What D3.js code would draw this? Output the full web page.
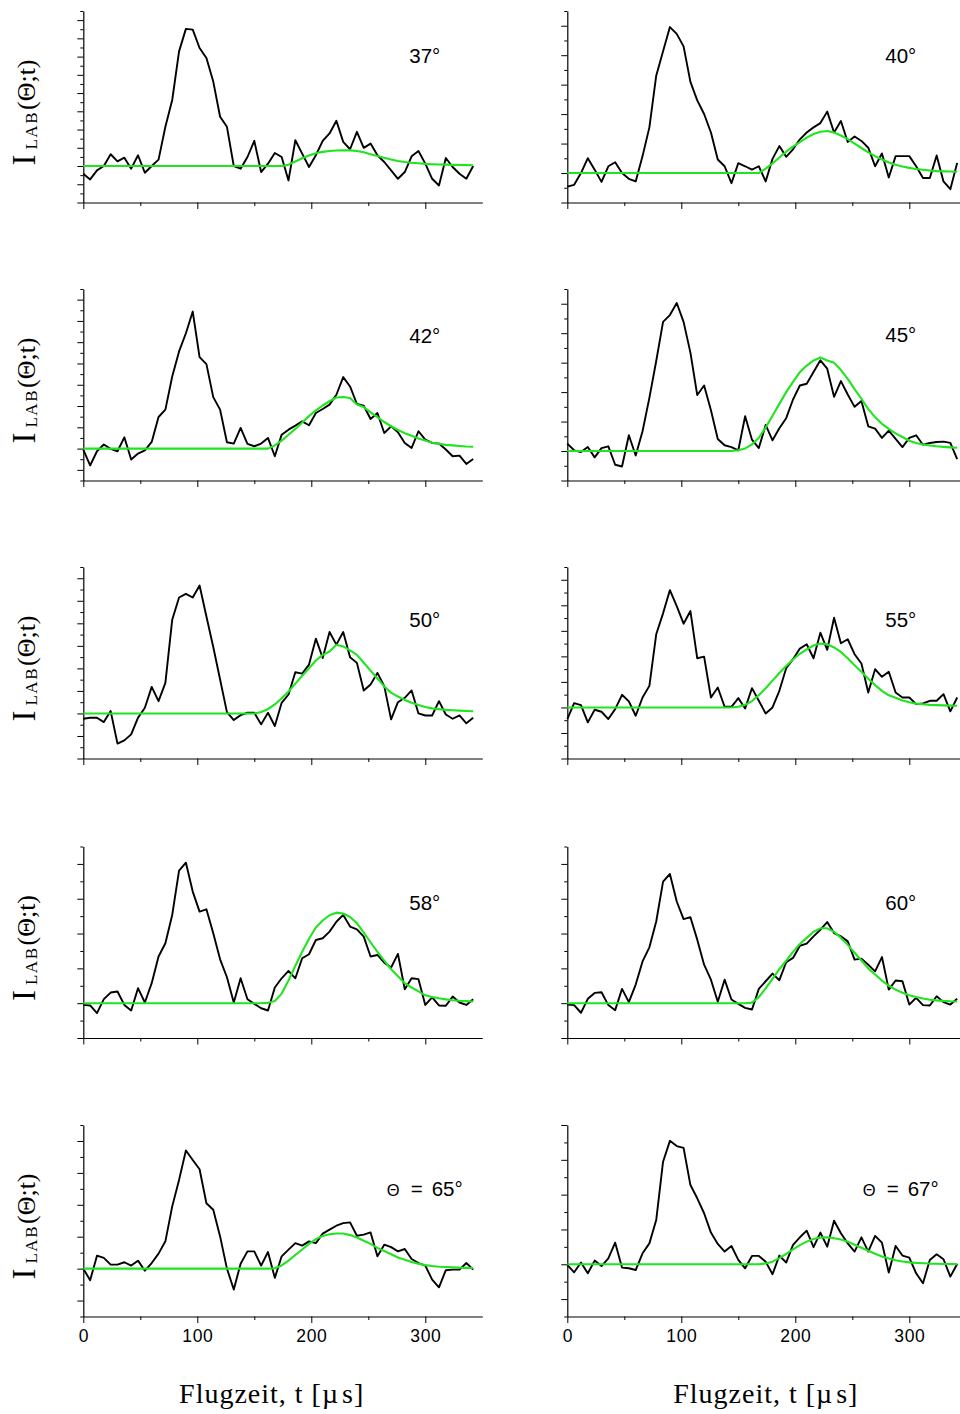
<!DOCTYPE html>
<html>
<head>
<meta charset="utf-8">
<script src="https://cdn.jsdelivr.net/npm/d3@7"></script>
<style>
  html, body { margin: 0; padding: 0; background: #fff; }
  svg { display: block; }
</style>
</head>
<body>
<svg id="chart" width="960" height="1414"></svg>
<script>
// Flight-time sampling grid in microseconds
const times = [0, 6, 12, 18, 24, 30, 36, 42, 48, 54, 60, 66, 72, 78, 84, 90, 96, 102, 108, 114,
  120, 126, 132, 138, 144, 150, 156, 162, 168, 174, 180, 186, 192, 198, 204, 210, 216, 222, 228, 234,
  240, 246, 252, 258, 264, 270, 276, 282, 288, 294, 300, 306, 312, 318, 324, 330, 336, 342];

// Laboratory angles and their panel captions
const angleLabels = ["37°", "40°", "42°", "45°", "50°", "55°", "58°", "60°", "65°", "67°"];
const thetaPrefixed = [false, false, false, false, false, false, false, false, true, true];

// Vertical axis extent per panel (in minor-tick units, baseline at 0)
const yRanges = [[-4, 17], [-2, 11], [-3, 15], [-2, 11], [-4, 13], [-4, 11], [-2, 9], [-2, 9], [-3, 9], [-3, 8]];

const xMajorTicks = [0, 100, 200, 300];
const xMinorTicks = [50, 150, 250];

// Measured time-of-flight intensity
const signal37 = [-0.85, -1.47, -0.48, 0, 1.29, 0.51, 0.92, -0.29, 1.18, -0.74, 0, 0.70, 4.3, 7.24, 12.57, 15.04, 14.96, 12.94, 11.84, 9.26, 5.4, 4.3, 0, -0.29, 0.99, 2.76, -0.66, 0.26, 1.43, 0.99, -1.58, 2.83, 1.36, -0.11, 1.18, 2.76, 3.57, 4.96, 2.65, 1.84, 3.75, 1.99, 2.46, 1.18, 0.44, -0.48, -1.40, -0.66, 1.07, 1.65, 0.26, -1.40, -2.13, 0.88, -0.11, -0.85, -1.40, 0];
const signal40 = [-0.92, -0.80, 0, 1.01, 0.23, -0.60, 0.46, 0.73, 0, -0.39, -0.57, 1.15, 3.10, 6.61, 8.26, 9.91, 9.45, 8.60, 6.19, 4.93, 4.01, 2.75, 0.92, 0.46, -0.69, 0.67, 0.46, 0.23, 0.46, -0.57, 0.96, 1.83, 1.10, 1.61, 2.29, 2.75, 3.10, 3.39, 4.17, 2.75, 3.53, 2.11, 2.48, 2.18, 1.72, 0.46, 1.33, -0.30, 1.15, 1.15, 1.15, 0.46, -0.34, -0.34, 1.19, -0.57, -1.10, 0.69];
const signal42 = [-0.09, -1.59, -0.25, 0.38, -0.03, -0.25, 1.06, -1.03, -0.47, -0.16, 0.63, 2.97, 3.66, 6.78, 9.13, 10.84, 12.88, 8.59, 7.94, 4.84, 3.66, 0.59, 0.47, 1.94, 0.44, 0.22, 0.47, 1.0, -0.72, 1.31, 1.78, 2.16, 2.56, 2.19, 3.34, 3.72, 4.13, 5.06, 6.72, 5.84, 4.19, 4.03, 2.78, 3.34, 1.47, 2.09, 1.53, 0.53, 0.06, 1.63, 0.84, 0.53, 0.47, -0.09, -0.72, -0.66, -1.44, -0.97];
const signal45 = [0.5, 0.05, -0.07, 0.27, -0.43, 0.2, 0.32, -0.93, -1.05, 1.07, -0.3, 1.34, 3.61, 6.11, 8.77, 9.23, 10.05, 8.77, 6.68, 3.8, 4.45, 2.77, 0.82, 0.39, 0.27, 0.05, 2.36, 0.77, 0.2, 1.77, 0.73, 1.55, 2.23, 3.5, 4.45, 4.57, 5.36, 6.16, 5.59, 3.68, 4.75, 3.84, 3.0, 3.39, 1.68, 1.52, 0.89, 1.39, 0.82, 0.27, 0.89, 1.07, 0.43, 0.55, 0.61, 0.64, 0.55, -0.55];
const signal50 = [-0.47, -0.38, -0.38, -0.77, 0.21, -2.68, -2.39, -1.86, -0.38, 0.5, 2.36, 1.09, 2.71, 8.32, 10.29, 10.62, 10.29, 11.36, 8.61, 5.9, 3.01, 0.12, -0.59, -0.15, 0.06, 0.06, -0.97, 0.06, -1.12, 0.94, 1.68, 3.66, 3.54, 4.34, 6.64, 4.93, 7.23, 6.11, 7.23, 4.99, 4.49, 2.04, 2.57, 3.6, 2.42, -0.53, 1.0, 1.39, 2.04, 0, -0.18, -0.18, 1.09, -0.09, -0.47, -0.18, -0.88, -0.38];
const signal55 = [-0.91, 0.34, 0.18, -1.17, -0.18, -0.34, -0.91, -0.13, 0.99, 0.47, -0.65, 0.78, 1.69, 5.73, 7.37, 9.19, 7.94, 6.56, 7.55, 3.85, 3.98, 0.78, 1.56, 0.05, 0.05, 0.73, -0.08, 1.51, 0.52, -0.47, 0, 1.3, 3.07, 3.78, 4.61, 4.95, 3.85, 5.86, 4.51, 7.03, 5.03, 5.34, 4.17, 3.44, 1.17, 2.99, 2.4, 2.79, 1.17, 0.78, 0.78, 0.26, 0.31, 0.52, 0.52, 1.04, -0.31, 0.78];
const signal58 = [-0.1, -0.13, -0.57, 0.23, 0.61, 0.67, -0.1, -0.42, 0.86, 0.04, 1.15, 2.68, 3.44, 5.07, 7.61, 8.07, 6.41, 5.26, 5.39, 4.02, 2.52, 1.49, 0.04, 1.43, 0.23, -0.04, -0.29, -0.42, 0.9, 1.43, 1.85, 1.43, 2.58, 2.81, 3.63, 3.73, 4.11, 4.68, 5.07, 4.4, 4.24, 3.82, 2.68, 2.77, 2.33, 2.05, 2.83, 0.8, 1.43, 1.38, -0.1, 0.33, -0.13, -0.15, 0.38, 0.04, -0.1, 0.23];
const signal60 = [-0.08, -0.11, -0.55, 0.25, 0.59, 0.63, -0.11, -0.4, 0.82, 0.06, 1.07, 2.4, 3.21, 4.69, 6.98, 7.42, 5.84, 4.83, 4.94, 3.65, 2.21, 1.35, 0.08, 1.35, 0.21, -0.04, -0.27, -0.36, 0.82, 1.26, 1.7, 1.32, 2.35, 2.6, 3.3, 3.42, 3.84, 4.22, 4.66, 4.03, 3.84, 3.55, 2.5, 2.56, 2.21, 1.83, 2.65, 0.78, 1.3, 1.26, -0.08, 0.31, -0.11, -0.13, 0.4, 0.06, -0.08, 0.25];
const signal65 = [0, -0.73, 0.81, 0.67, 0.25, 0.25, 0.4, 0.19, 0.5, -0.13, 0.35, 0.94, 1.71, 3.9, 5.56, 7.4, 6.81, 6.23, 4.1, 3.69, 2.02, 0, -1.31, 0.31, 1.08, 1.08, 0.19, 1.04, -0.58, 0.77, 1.19, 1.6, 1.44, 1.71, 1.6, 2.19, 2.44, 2.69, 2.85, 2.9, 2.06, 2.13, 2.27, 0.77, 1.5, 1.35, 1.08, 1.23, 0.6, 0.35, 0.19, -0.69, -1.17, -0.1, -0.06, -0.06, 0.35, -0.06];
const signal67 = [-0.04, -0.46, 0.1, -0.52, 0.21, -0.1, 0.34, 1.24, -0.19, -0.23, -0.33, 0.63, 1.2, 2.54, 5.89, 7.09, 6.79, 6.69, 4.55, 3.79, 2.93, 1.82, 1.17, 0.73, 1.05, 0.25, -0.23, 0.48, 0.48, 0.15, -0.57, 0.5, 0.1, 1.11, 1.55, 1.93, 0.98, 1.82, 1.01, 2.5, 1.78, 1.2, 0.73, 1.55, 0.73, 1.63, 1.24, -0.48, 1.05, 0.5, 0.38, -0.52, -1.09, 0.25, 0.57, 0.29, -0.71, 0.02];

// Fitted slow (product) component
const fit37 = [0, 0, 0, 0, 0, 0, 0, 0, 0, 0, 0, 0, 0, 0, 0, 0, 0, 0, 0, 0, 0, 0, 0, 0, 0, 0, 0, 0, 0, 0, 0.15, 0.5, 0.85, 1.15, 1.4, 1.55, 1.65, 1.7, 1.73, 1.72, 1.65, 1.5, 1.3, 1.1, 0.9, 0.72, 0.56, 0.45, 0.36, 0.3, 0.24, 0.2, 0.17, 0.15, 0.13, 0.11, 0.1, 0.08];
const fit40 = [0, 0, 0, 0, 0, 0, 0, 0, 0, 0, 0, 0, 0, 0, 0, 0, 0, 0, 0, 0, 0, 0, 0, 0, 0, 0, 0, 0, 0, 0.3, 0.65, 1.05, 1.45, 1.8, 2.1, 2.4, 2.65, 2.8, 2.85, 2.75, 2.55, 2.3, 2.0, 1.7, 1.4, 1.15, 0.92, 0.72, 0.56, 0.44, 0.35, 0.28, 0.22, 0.17, 0.13, 0.11, 0.1, 0.09];
const fit42 = [0, 0, 0, 0, 0, 0, 0, 0, 0, 0, 0, 0, 0, 0, 0, 0, 0, 0, 0, 0, 0, 0, 0, 0, 0, 0, 0, 0, 0.3, 0.75, 1.3, 1.85, 2.45, 3.05, 3.6, 4.05, 4.45, 4.8, 4.85, 4.75, 4.15, 3.9, 3.4, 2.95, 2.5, 2.1, 1.75, 1.45, 1.2, 0.95, 0.75, 0.55, 0.45, 0.35, 0.3, 0.25, 0.2, 0.17];
const fit45 = [0, 0, 0, 0, 0, 0, 0, 0, 0, 0, 0, 0, 0, 0, 0, 0, 0, 0, 0, 0, 0, 0, 0, 0, 0, 0.05, 0.18, 0.45, 0.9, 1.6, 2.4, 3.2, 4.0, 4.7, 5.35, 5.8, 6.15, 6.35, 6.15, 6.0, 5.5, 4.9, 4.2, 3.55, 2.85, 2.3, 1.85, 1.5, 1.2, 0.95, 0.7, 0.55, 0.45, 0.38, 0.32, 0.28, 0.25, 0.22];
const fit50 = [0, 0, 0, 0, 0, 0, 0, 0, 0, 0, 0, 0, 0, 0, 0, 0, 0, 0, 0, 0, 0, 0, 0, 0, 0, 0, 0.12, 0.38, 0.8, 1.35, 1.95, 2.65, 3.35, 4.0, 4.7, 5.2, 5.5, 6.1, 5.95, 5.6, 5.2, 4.5, 3.8, 3.1, 2.4, 1.85, 1.5, 1.2, 0.95, 0.75, 0.58, 0.45, 0.38, 0.32, 0.28, 0.25, 0.22, 0.2];
const fit55 = [0, 0, 0, 0, 0, 0, 0, 0, 0, 0, 0, 0, 0, 0, 0, 0, 0, 0, 0, 0, 0, 0, 0, 0, 0, 0.05, 0.2, 0.5, 0.95, 1.5, 2.1, 2.7, 3.25, 3.75, 4.2, 4.55, 4.85, 5.0, 4.95, 4.7, 4.35, 3.85, 3.3, 2.8, 2.25, 1.75, 1.3, 0.95, 0.75, 0.55, 0.4, 0.3, 0.25, 0.2, 0.18, 0.16, 0.14, 0.13];
const fit58 = [0, 0, 0, 0, 0, 0, 0, 0, 0, 0, 0, 0, 0, 0, 0, 0, 0, 0, 0, 0, 0, 0, 0, 0, 0, 0, 0, 0.02, 0.12, 0.55, 1.3, 2.15, 2.95, 3.7, 4.35, 4.75, 5.05, 5.2, 5.15, 4.95, 4.6, 4.05, 3.5, 2.95, 2.45, 1.95, 1.55, 1.15, 0.9, 0.68, 0.45, 0.35, 0.28, 0.22, 0.17, 0.14, 0.12, 0.1];
const fit60 = [0, 0, 0, 0, 0, 0, 0, 0, 0, 0, 0, 0, 0, 0, 0, 0, 0, 0, 0, 0, 0, 0, 0, 0, 0, 0, 0, 0.03, 0.35, 0.85, 1.4, 1.95, 2.45, 2.95, 3.4, 3.75, 4.1, 4.3, 4.3, 4.1, 3.75, 3.35, 2.9, 2.45, 2.0, 1.65, 1.3, 1.0, 0.78, 0.6, 0.45, 0.35, 0.27, 0.2, 0.16, 0.13, 0.11, 0.1];
const fit65 = [0, 0, 0, 0, 0, 0, 0, 0, 0, 0, 0, 0, 0, 0, 0, 0, 0, 0, 0, 0, 0, 0, 0, 0, 0, 0, 0, 0, 0.02, 0.2, 0.5, 0.85, 1.2, 1.55, 1.85, 2.05, 2.15, 2.2, 2.2, 2.1, 1.95, 1.75, 1.55, 1.3, 1.1, 0.9, 0.7, 0.55, 0.42, 0.3, 0.22, 0.16, 0.12, 0.1, 0.08, 0.06, 0.05, 0.04];
const fit67 = [0, 0, 0, 0, 0, 0, 0, 0, 0, 0, 0, 0, 0, 0, 0, 0, 0, 0, 0, 0, 0, 0, 0, 0, 0, 0, 0, 0, 0, 0.05, 0.15, 0.35, 0.6, 0.85, 1.1, 1.3, 1.45, 1.53, 1.55, 1.5, 1.42, 1.3, 1.12, 0.95, 0.78, 0.6, 0.45, 0.33, 0.23, 0.16, 0.11, 0.08, 0.06, 0.04, 0.03, 0.02, 0.02, 0.01];

const signals = [signal37, signal40, signal42, signal45, signal50, signal55, signal58, signal60, signal65, signal67];
const fits = [fit37, fit40, fit42, fit45, fit50, fit55, fit58, fit60, fit65, fit67];

// ---- layout ----
const colOrigin = [83.3, 567.3];
const rowTop = [11, 289, 567, 846.5, 1125];
const plotH = 191.5;
const plotW = 399;                 // 0 … 350 µs
const captionBaseline = [52.3, 52.3, 54.3, 53.3, 59.7, 59.7, 63, 63.7, 71, 71];
const captionX = [{ plain: 326, theta: 303.5 }, { plain: 318, theta: 295.5 }];
const titleX = [188.4, 198.5];

const SANS = "'Liberation Sans', Arial, Helvetica, sans-serif";
const SERIF = "'Liberation Serif', 'Times New Roman', Times, serif";
const FIT_COLOR = "#1fe51f";

const svg = d3.select("#chart");
const x = d3.scaleLinear().domain([0, 350]).range([0, plotW]);

signals.forEach((signal, i) => {
  const row = Math.floor(i / 2), col = i % 2;
  const bottomRow = row === 4;
  const [lo, hi] = yRanges[i];
  const g = svg.append("g").attr("transform", `translate(${colOrigin[col]},${rowTop[row]})`);
  const y = d3.scaleLinear().domain([lo, hi]).range([plotH, 0]);

  // left axis: ticks on every unit, longer on even units
  const ya = g.append("g")
    .call(d3.axisLeft(y).tickValues(d3.range(lo, hi + 1)).tickFormat("").tickSizeOuter(0));
  ya.select(".domain").attr("stroke", "#000").attr("stroke-width", 1.2);
  ya.selectAll(".tick line").attr("stroke", "#000").attr("stroke-width", 1)
    .attr("x2", d => (d % 2 === 0 ? -6 : -3));

  // bottom axis
  const xa = g.append("g").attr("transform", `translate(0,${plotH})`)
    .call(d3.axisBottom(x)
      .tickValues(xMajorTicks.concat(xMinorTicks).sort((a, b) => a - b))
      .tickSizeOuter(0)
      .tickFormat(d => (bottomRow && xMajorTicks.includes(d) ? d : "")));
  xa.attr("font-family", SANS).attr("font-size", 17.5);
  xa.select(".domain").attr("stroke", "#000").attr("stroke-width", 1.2);
  xa.selectAll(".tick line").attr("stroke", "#000").attr("stroke-width", 1)
    .attr("y2", d => (xMajorTicks.includes(d) ? 6.5 : 3.5));
  xa.selectAll(".tick text").attr("y", 25.5).attr("dy", null).attr("fill", "#000")
    .attr("letter-spacing", 0.6);

  const line = d3.line().x((d, k) => x(times[k])).y(d => y(d));

  g.append("path").datum(signal)
    .attr("d", line)
    .attr("fill", "none").attr("stroke", "#000").attr("stroke-width", 1.9)
    .attr("stroke-linejoin", "round");

  g.append("path").datum(fits[i])
    .attr("d", line)
    .attr("fill", "none").attr("stroke", FIT_COLOR).attr("stroke-width", 2.1)
    .attr("stroke-linejoin", "round");

  // angle caption
  const cap = g.append("text")
    .attr("x", thetaPrefixed[i] ? captionX[col].theta : captionX[col].plain)
    .attr("y", captionBaseline[i])
    .attr("font-family", SANS).attr("font-size", 20.5).attr("fill", "#000");
  if (thetaPrefixed[i]) {
    cap.append("tspan").attr("font-size", 16.5).text("Θ");
    cap.append("tspan").attr("dx", 11).text("=");
    cap.append("tspan").attr("dx", 9).text(angleLabels[i]);
  } else {
    cap.text(angleLabels[i]);
  }

  // vertical title on the left column
  if (col === 0) {
    const yt = g.append("text")
      .attr("transform", `translate(${34.5 - colOrigin[0]},${101.5}) rotate(-90)`)
      .attr("text-anchor", "middle")
      .attr("font-family", SERIF).attr("fill", "#000");
    yt.append("tspan").attr("font-size", 33).text("I");
    yt.append("tspan").attr("font-size", 17).attr("dx", 5).attr("dy", 2.5)
      .attr("letter-spacing", 1.5).text("LAB");
    yt.append("tspan").attr("font-size", 26).attr("dx", 1).attr("dy", -2.5).text("(Θ;t)");
  }

  // horizontal title under the bottom row
  if (bottomRow) {
    const xt = g.append("text")
      .attr("x", titleX[col]).attr("y", 278)
      .attr("text-anchor", "middle")
      .attr("font-family", SERIF).attr("font-size", 28).attr("fill", "#000")
      .attr("letter-spacing", 1);
    xt.append("tspan").text("Flugzeit, t [µ");
    xt.append("tspan").attr("dx", 3).text("s]");
  }
});
</script>
</body>
</html>
